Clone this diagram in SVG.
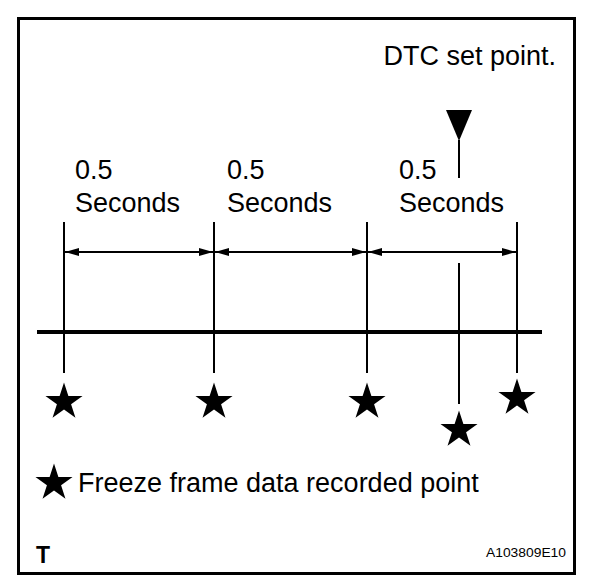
<svg xmlns="http://www.w3.org/2000/svg" width="608" height="584" viewBox="0 0 608 584">
<style>
text{font-family:"Liberation Sans",Arial,sans-serif;fill:#000}
.lbl{font-size:27px}
.ln{stroke:#000;stroke-width:2;fill:none}
.star{fill:#000}
</style>
<defs>
<marker id="ah" viewBox="0 0 14 8" refX="14" refY="4" markerWidth="14" markerHeight="8" markerUnits="userSpaceOnUse" orient="auto-start-reverse">
<path d="M0,0 L14,4 L0,8 Z" fill="#000"/>
</marker>
<path id="st" d="M0,-19.5 L4.38,-6.03 L18.55,-6.03 L7.08,2.30 L11.46,15.78 L0,7.45 L-11.46,15.78 L-7.08,2.30 L-18.55,-6.03 L-4.38,-6.03 Z"/>
</defs>
<rect x="18.5" y="18.5" width="556" height="555" fill="#fff" stroke="#000" stroke-width="3"/>
<g id="dtc">
<text class="lbl" x="556" y="65" text-anchor="end">DTC set point.</text>
<path d="M446,110 L472,110 L459,141 Z" fill="#000"/>
<line class="ln" x1="459" y1="140" x2="459" y2="178"/>
</g>
<g id="labels">
<text class="lbl" x="75" y="179">0.5</text>
<text class="lbl" x="75" y="212">Seconds</text>
<text class="lbl" x="227" y="179">0.5</text>
<text class="lbl" x="227" y="212">Seconds</text>
<text class="lbl" x="399" y="179">0.5</text>
<text class="lbl" x="399" y="212">Seconds</text>
</g>
<g id="connectors">
<line class="ln" x1="64" y1="222" x2="64" y2="373"/>
<line class="ln" x1="214" y1="222" x2="214" y2="373"/>
<line class="ln" x1="367" y1="222" x2="367" y2="373"/>
<line class="ln" x1="517" y1="222" x2="517" y2="373"/>
<line class="ln" x1="459" y1="263" x2="459" y2="404"/>
<line class="ln" x1="65" y1="252" x2="213" y2="252" marker-start="url(#ah)" marker-end="url(#ah)"/>
<line class="ln" x1="215" y1="252" x2="366" y2="252" marker-start="url(#ah)" marker-end="url(#ah)"/>
<line class="ln" x1="368" y1="252" x2="516" y2="252" marker-start="url(#ah)" marker-end="url(#ah)"/>
<line x1="37" y1="332" x2="542" y2="332" stroke="#000" stroke-width="4"/>
</g>
<g id="stars">
<use href="#st" class="star" x="64" y="402"/>
<use href="#st" class="star" x="214" y="402"/>
<use href="#st" class="star" x="367" y="402"/>
<use href="#st" class="star" x="517" y="398"/>
<use href="#st" class="star" x="459" y="430"/>
</g>
<g id="legend">
<use href="#st" class="star" x="54" y="483"/>
<text class="lbl" x="78" y="492">Freeze frame data recorded point</text>
</g>
<text x="36" y="563" font-size="23" font-weight="bold">T</text>
<text x="566" y="557" font-size="12" text-anchor="end" textLength="80" lengthAdjust="spacingAndGlyphs">A103809E10</text>
</svg>
